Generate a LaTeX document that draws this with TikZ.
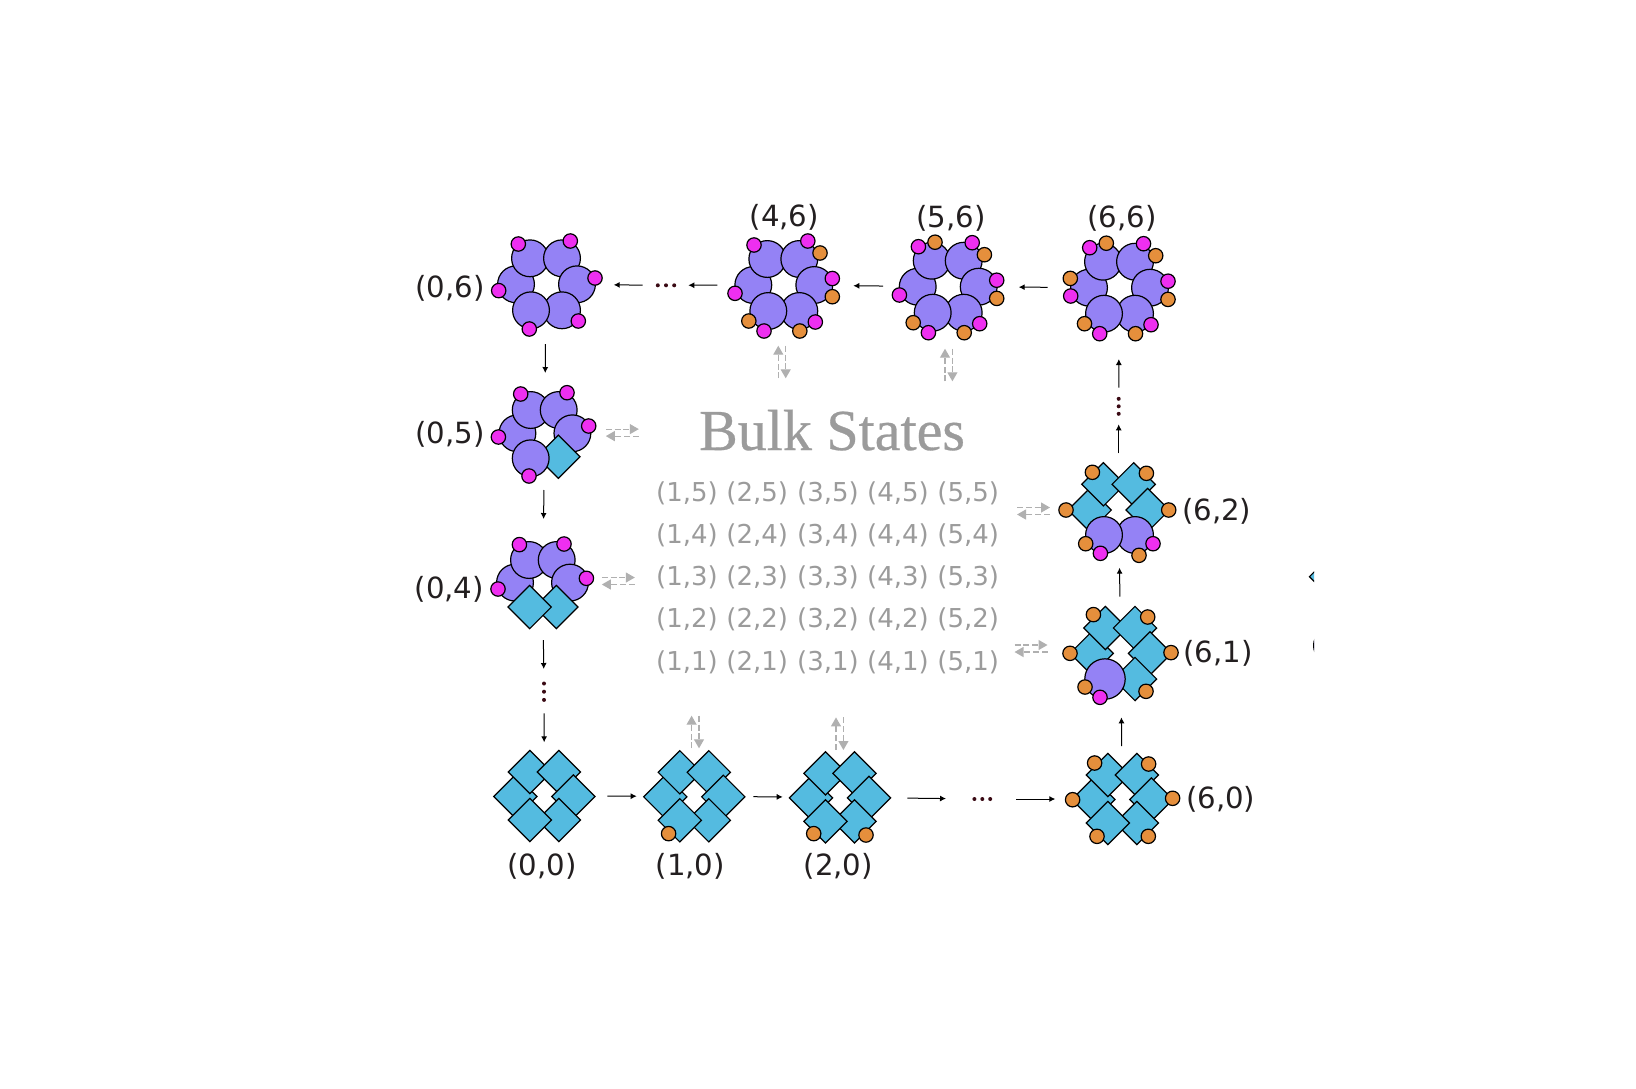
\documentclass[tikz,border=0pt]{standalone}
\usepackage{fontspec}
\setmainfont{DejaVu Sans}
\newfontfamily\titlefont[FakeBold=0.5]{Liberation Serif}
\usetikzlibrary{arrows.meta}

\definecolor{ringpurple}{RGB}{148,130,245}
\definecolor{ringblue}{RGB}{84,187,224}
\definecolor{ballpink}{RGB}{238,47,240}
\definecolor{ballorange}{RGB}{229,143,60}
\definecolor{dotbrown}{RGB}{58,10,20}
\definecolor{bulkgrey}{RGB}{155,155,155}
\definecolor{pairgrey}{RGB}{176,176,176}
\definecolor{labelblack}{RGB}{35,31,32}

% the two plain rings, slots run left, top left, top right, right, bottom right, bottom left
\def\ringC{1/cir/-30/0,2/cir/-16/-26,3/cir/16/-26,4/cir/31/0,5/cir/16/26,6/cir/-15/26}
\def\ringS{1/sq/-29/0.5,2/sq/-14.5/-24,3/sq/14.5/-24,4/sq/29/0.5,5/sq/14.5/24,6/sq/-14.5/24}

% name, position, ring parts, balls
\newcommand{\molecule}[4]{
    \coordinate (#1) at (#2);
    \begin{scope}[shift={(#2)}]
        \edef\partlist{#3}
        \foreach \i/\s/\dx/\dy in \partlist
            \node[\s] (#1-\i) at (\dx,\dy) {};
        \edef\balllist{#4}
        \foreach \i/\s/\dx/\dy in \balllist
            \node[\s] (#1-b\i) at (\dx,\dy) {};
    \end{scope}
}

\begin{document}
\begin{tikzpicture}[x=0.5pt,y=-0.5pt]
    \tikzstyle{part}=[draw=black,line width=0.6pt,inner sep=0pt,outer sep=0pt]
    \tikzstyle{cir}=[part,circle,fill=ringpurple,minimum size=18.4pt]
    \tikzstyle{bigcir}=[part,circle,fill=ringpurple,minimum size=20.2pt]
    \tikzstyle{sq}=[part,rectangle,rotate=45,fill=ringblue,minimum size=15.3pt]
    \tikzstyle{mb}=[part,circle,fill=ballpink,minimum size=7.2pt]
    \tikzstyle{ob}=[part,circle,fill=ballorange,minimum size=7.2pt]
    \tikzstyle{pt}=[circle,fill=dotbrown,minimum size=2pt,inner sep=0pt]
    \tikzstyle{flow}=[draw=black,line width=0.5pt,-{Latex[length=3pt,width=3pt]}]
    \tikzstyle{pair}=[draw=pairgrey,line width=0.6pt,dash pattern=on 3pt off 1.4pt,-{Triangle[length=4.5pt,width=5pt]}]
    \tikzstyle{lab}=[text=labelblack,font=\fontsize{14.6}{16}\selectfont,inner sep=0pt]
    \tikzstyle{bulklab}=[text=bulkgrey,font=\fontsize{13}{15}\selectfont,inner sep=0pt]

    \useasboundingbox (0,0) rectangle (1636,1088);

    % Draw the top row
    \molecule{m06}{546,284.3}{\ringC}{1/mb/-47.3/6.3,2/mb/-27.7/-40.3,3/mb/24.3/-43.3,4/mb/49/-6.3,5/mb/32.3/36.7,6/mb/-16.7/44.7}
    \molecule{m46}{783.3,285}{\ringC}{1/ob/36.7/-32,2/ob/49/11.7,3/ob/16.5/46,4/ob/-34.5/36,5/mb/-29.3/-40,6/mb/24.5/-44,7/mb/49/-6.5,8/mb/32/37,9/mb/-19.3/46,10/mb/-48.3/8.3}
    \molecule{m56}{947.7,286.7}{\ringC}{1/ob/-12.7/-44.5,2/ob/36.7/-32,3/ob/49/11.7,4/ob/16.5/46,5/ob/-34.5/36,6/mb/-29.3/-40,7/mb/24.5/-44,8/mb/49/-6.5,9/mb/32/37,10/mb/-19.3/46,11/mb/-48.3/8.3}
    \molecule{m66}{1119,287.7}{\ringC}{1/ob/-12.7/-44.5,2/ob/36.7/-32,3/ob/49/11.7,4/ob/16.5/46,5/ob/-34.5/36,6/ob/-48.7/-9.3,7/mb/-29.3/-40,8/mb/24.5/-44,9/mb/49/-6.5,10/mb/32/37,11/mb/-19.3/46,12/mb/-48.3/8.3}

    % Draw the left column
    \molecule{m05}{544.7,434}{1/cir/-27.3/-0.7,2/cir/-14/-24,3/cir/14/-24,4/cir/27.7/-0.7,5/sq/13.7/22.7,6/cir/-14/24.3}{1/mb/-24/-40,2/mb/22.3/-41.3,3/mb/44/-8,4/mb/-15.7/42,5/mb/-46.3/3}
    \molecule{m04}{542.7,583.3}{1/cir/-27.7/-0.7,2/cir/-13.7/-23.3,3/cir/14/-23.3,4/cir/27.3/-0.7,5/sq/13.7/23.7,6/sq/-13/23.7}{1/mb/-23.3/-38.7,2/mb/21.3/-39.3,3/mb/43.7/-5,4/mb/-44.7/5.7}

    % Draw the bottom row
    \molecule{m00}{544.3,796}{\ringS}{}
    \molecule{m10}{694.3,796.3}{\ringS}{1/ob/-25.7/37.3}
    \molecule{m20}{840,797.3}{\ringS}{1/ob/-26.3/36.3,2/ob/26/37.7}
    \molecule{m60}{1122.3,799}{\ringS}{1/ob/-27.7/-36,2/ob/26.3/-35,3/ob/-49.7/0.7,4/ob/50.3/-0.7,5/ob/-25.3/37.3,6/ob/26/37.3}

    % Draw the right column
    \molecule{m61}{1120.7,653.3}{1/sq/-29/0,2/sq/-15.3/-25.3,3/sq/14.3/-25.3,4/sq/29.3/0,5/sq/14.3/25.7,6/bigcir/-15.7/25.7}{1/ob/-27.3/-38.7,2/ob/27/-36.3,3/ob/-50.7/0,4/ob/50.3/-0.7,5/ob/-35.7/33.7,6/ob/25.3/38,7/mb/-20.7/44}
    \molecule{m62}{1118.7,510}{1/sq/-29/0,2/sq/-15.3/-25.7,3/sq/15/-25.7,4/sq/29/0,5/cir/16.3/25,6/cir/-14.7/25}{1/ob/-26.3/-37.7,2/ob/27.7/-36.7,3/ob/-52.7/0,4/ob/50/0,5/ob/-33/33.7,6/ob/20.3/45.3,7/mb/-18.3/43.3,8/mb/34.3/33.7}

    % Draw the three dots between the long arrows
    \foreach \name/\x/\y/\dx/\dy in {d1/666/285.3/8.2/0,d2/544/691.7/0/8.2,d3/982.3/799/7.9/0,d4/1118.7/406.3/0/7.5} {
        \coordinate (\name) at (\x,\y);
        \foreach \k in {-1,0,1}
            \node[pt] (\name-\k) at (\x+\k*\dx,\y+\k*\dy) {};
    }

    % Connect the states along the border, the numbers are the gaps left at each end
    \foreach \source/\dest/\a/\b in {m66/m56/71.3/71,m56/m46/64.7/70,m46/d1/66/22.3,d1/m06/23.3/67.7,
            m06/m05/59.7/61,m05/m04/56/64.3,m04/d2/56.7/22.7,d2/m00/21.6/53.7,
            m00/m10/63/57.6,m10/m20/59/57.3,m20/d3/67.3/36.3,d3/m60/34/67,
            m60/m61/53/64,m61/m62/56.6/57.7,m62/d4/56.7/18,d4/m66/18.6/71.3}
        \path (\source) edge[flow,shorten <=\a*0.5pt,shorten >=\b*0.5pt] (\dest);

    % Dashed pairs towards the bulk, upright ones first
    \foreach \name/\x/\y in {p46/782/362,p56/948.7/365,p10/695.3/732,p20/839.7/733.7} {
        \coordinate (\name-a) at (\x-3.7,\y+16.3);
        \coordinate (\name-b) at (\x-3.7,\y-16.3);
        \coordinate (\name-c) at (\x+3.7,\y-16.3);
        \coordinate (\name-d) at (\x+3.7,\y+16.3);
        \draw[pair] (\name-a) -- (\name-b);
        \draw[pair] (\name-c) -- (\name-d);
    }
    \foreach \name/\x/\y in {p05/622.3/432.6,p04/618.3/581,p61/1031/648.5,p62/1033.5/511} {
        \coordinate (\name-a) at (\x-16.5,\y-3.5);
        \coordinate (\name-b) at (\x+16.5,\y-3.5);
        \coordinate (\name-c) at (\x+16.5,\y+3.5);
        \coordinate (\name-d) at (\x-16.5,\y+3.5);
        \draw[pair] (\name-a) -- (\name-b);
        \draw[pair] (\name-c) -- (\name-d);
    }

    % Annotate the states
    \foreach \i/\j/\x/\y in {0/6/450/288.8,0/5/450/434.2,0/4/449.3/589.8,4/6/784.3/217,5/6/951/218,6/6/1122/218.5,
            0/0/542/866.5,1/0/690.3/866.5,2/0/838.3/866.5,6/0/1220.7/799.8,6/1/1218/653.8,6/2/1216.7/511.5}
        \node[lab] (l\i\j) at (\x,\y) {(\i,\j)};

    % The bulk in the middle
    \node[text=bulkgrey,font=\titlefont\fontsize{29}{32}\selectfont,inner sep=0pt,anchor=base] (bulk) at (832,450) {Bulk States};
    \foreach \i/\x in {1/687,2/757.3,3/828,4/898,5/968.3}
        \foreach \j/\y in {5/493.5,4/535.5,3/577.5,2/619.5,1/662.2}
            \node[bulklab] (b\i\j) at (\x,\y) {(\i,\j)};

    % Cut off neighbours at the right edge
    \begin{scope}
        \clip (1280,560) rectangle (1314,660);
        \node[sq] (cut-sq) at (1331,576.7) {};
        \node[cir] (cut-cir) at (1332,645.5) {};
    \end{scope}
\end{tikzpicture}
\end{document}
